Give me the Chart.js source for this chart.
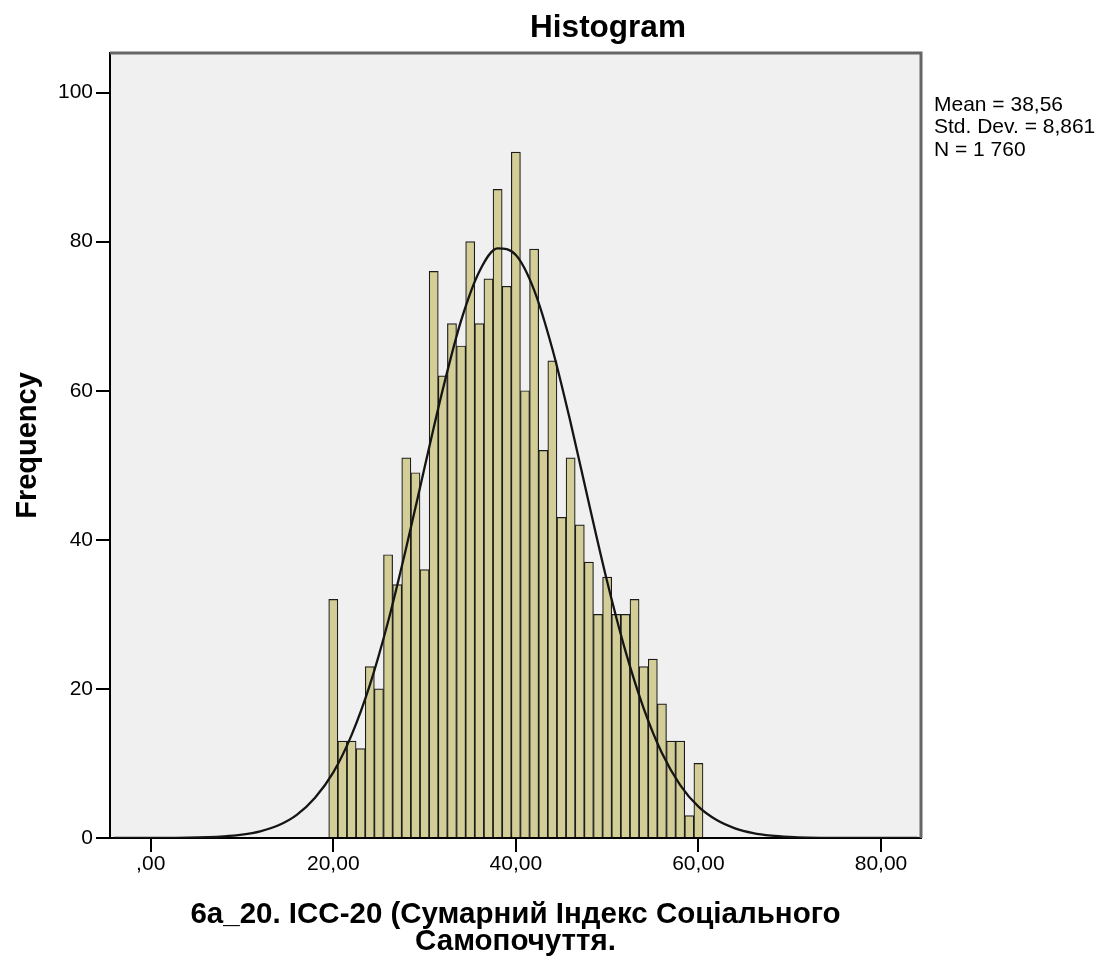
<!DOCTYPE html>
<html>
<head>
<meta charset="utf-8">
<script src="https://cdn.jsdelivr.net/npm/chart.js@4.4.1/dist/chart.umd.min.js"></script>
<style>
  html, body { margin: 0; padding: 0; background: #ffffff; }
  #wrap { width: 1103px; height: 960px; position: relative; }
</style>
</head>
<body>
<div id="wrap"><canvas id="c"></canvas></div>
<script>
// ---- data ----
const binCenters = [20,21,22,23,24,25,26,27,28,29,30,31,32,33,34,35,36,37,38,39,40,41,42,43,44,45,46,47,48,49,50,51,52,53,54,55,56,57,58,59,60];
const frequencies = [32,13,13,12,23,20,38,34,51,49,36,76,62,69,66,80,69,75,87,74,92,60,79,52,64,43,51,42,37,30,35,30,30,32,23,24,18,13,13,3,10];
const curveX = [-4,0,4,8,10,12,14,16,18,20,22,24,26,28,30,32,34,36,38,40,42,44,46,48,50,52,54,56,58,60,62,64,66,68,70,72,76,80,84];
const curveY = [0,0.01,0.04,0.21,0.44,0.89,1.7,3.1,5.4,8.8,13.8,20.5,29.0,39.0,49.7,60.2,69.4,76.0,79.1,78.2,73.5,65.6,55.7,44.9,34.4,25.1,17.4,11.4,7.1,4.2,2.4,1.3,0.66,0.32,0.15,0.06,0.01,0,0];
const xTickValues = [0,20,40,60,80];
const yTickValues = [0,20,40,60,80,100];
const chartTitle = 'Histogram';
const xTitleLines = ['6а_20. ІСС-20 (Сумарний Індекс Соціального', 'Самопочуття.'];
const yTitle = 'Frequency';
const statsLines = ['Mean = 38,56', 'Std. Dev. = 8,861', 'N = 1 760'];

const FONT = '"Liberation Sans", Arial, sans-serif';

const bgPlugin = {
  id: 'plotBg',
  beforeDraw(chart) {
    const {ctx, chartArea: a} = chart;
    ctx.save();
    ctx.fillStyle = '#f0f0f0';
    ctx.fillRect(a.left, a.top, a.right - a.left, a.bottom - a.top);
    ctx.restore();
  },
  afterDraw(chart) {
    const {ctx, chartArea: a} = chart;
    ctx.save();
    ctx.strokeStyle = '#666666';
    ctx.lineWidth = 3;
    ctx.beginPath();
    ctx.moveTo(a.left, a.top);
    ctx.lineTo(a.right, a.top);
    ctx.lineTo(a.right, a.bottom);
    ctx.stroke();
    ctx.fillStyle = '#000';
    ctx.font = 'bold 31.5px ' + FONT;
    ctx.textAlign = 'center';
    ctx.textBaseline = 'alphabetic';
    ctx.fillText(chartTitle, 608, 37);
    ctx.font = '21px ' + FONT;
    ctx.textAlign = 'left';
    ctx.textBaseline = 'middle';
    statsLines.forEach((s, i) => ctx.fillText(s, 934, 105 + i * 22.5));
    ctx.restore();
  }
};

const ctx = document.getElementById('c').getContext('2d');
new Chart(ctx, {
  data: {
    datasets: [
      {
        type: 'line',
        data: curveX.map((x, i) => ({x: x, y: curveY[i]})),
        borderColor: '#151515',
        borderWidth: 2.3,
        pointRadius: 0,
        cubicInterpolationMode: 'monotone',
        fill: false,
        order: 0
      },
      {
        type: 'bar',
        data: binCenters.map((x, i) => ({x: x, y: frequencies[i]})),
        backgroundColor: '#d3ce97',
        borderColor: '#1c1c1c',
        borderWidth: 1.2,
        barPercentage: 1,
        categoryPercentage: 1,
        order: 1
      }
    ]
  },
  options: {
    responsive: true,
    maintainAspectRatio: false,
    animation: false,
    layout: { padding: { top: 53, right: 182, bottom: 0, left: 0 } },
    plugins: {
      legend: { display: false },
      tooltip: { enabled: false },
      title: { display: false }
    },
    scales: {
      x: {
        type: 'linear',
        min: -4.46,
        max: 84.38,
        offset: false,
        afterBuildTicks(scale) { scale.ticks = xTickValues.map(v => ({value: v})); },
        afterFit(scale) { scale.height = 122; },
        ticks: {
          color: '#000',
          font: { family: FONT, size: 21 },
          padding: 0,
          maxRotation: 0,
          autoSkip: false,
          callback(v) { return v === 0 ? ',00' : v.toFixed(2).replace('.', ','); }
        },
        grid: { offset: false, drawOnChartArea: false, drawTicks: true, tickLength: 14, color: '#000', lineWidth: 2 },
        border: { display: true, color: '#000', width: 2 },
        title: {
          display: true,
          text: xTitleLines,
          color: '#000',
          font: { family: FONT, size: 29.5, weight: 'bold', lineHeight: '27px' },
          padding: { top: 0, bottom: 5 }
        }
      },
      y: {
        type: 'linear',
        min: 0,
        max: 105.3,
        afterBuildTicks(scale) { scale.ticks = yTickValues.map(v => ({value: v})); },
        afterFit(scale) { scale.width = 110; },
        ticks: {
          color: '#000',
          font: { family: FONT, size: 21 },
          padding: 3
        },
        grid: { drawOnChartArea: false, drawTicks: true, tickLength: 14, color: '#000', lineWidth: 2 },
        border: { display: true, color: '#000', width: 2 },
        title: {
          display: true,
          text: yTitle,
          color: '#000',
          font: { family: FONT, size: 29, weight: 'bold' },
          padding: { top: 11, bottom: 0 }
        }
      }
    }
  },
  plugins: [bgPlugin]
});
</script>
</body>
</html>
